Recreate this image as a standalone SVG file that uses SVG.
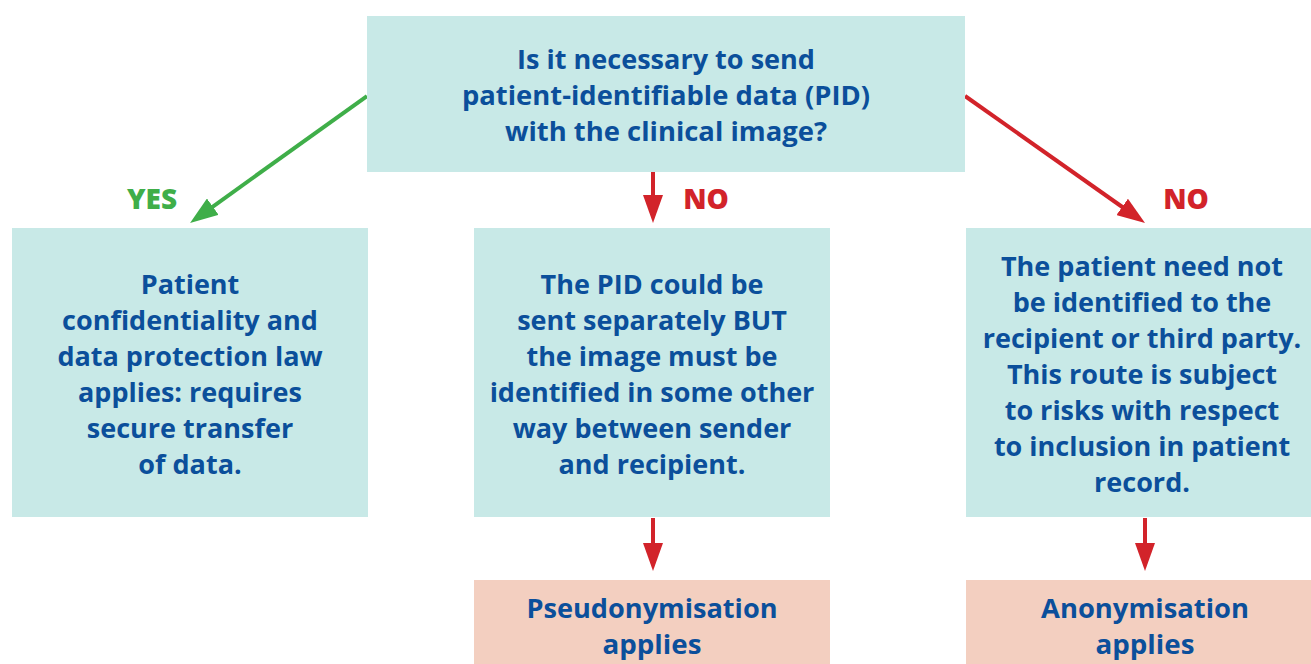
<svg xmlns="http://www.w3.org/2000/svg" width="1311" height="664" viewBox="0 0 1311 664">
<style>
.box{fill:#c8e9e7}
.res{fill:#f3cfc0}
.t{font-family:"Open Sans","Liberation Sans",sans-serif;font-weight:bold;font-size:27px;fill:#0b4f9b;text-anchor:middle}
.lbl{font-family:"Open Sans","Liberation Sans",sans-serif;font-weight:800;font-size:28px;text-anchor:middle}
.g{stroke:#3fae49;stroke-width:4;fill:none}
.r{stroke:#d2232a;stroke-width:4;fill:none}
</style>
<defs>
<marker id="ag" markerUnits="userSpaceOnUse" markerWidth="28" markerHeight="20" refX="8" refY="10" orient="auto"><path d="M0,0 L28,10 L0,20 z" fill="#3fae49"/></marker>
<marker id="ar" markerUnits="userSpaceOnUse" markerWidth="28" markerHeight="20" refX="8" refY="10" orient="auto"><path d="M0,0 L28,10 L0,20 z" fill="#d2232a"/></marker>
</defs>
<g id="connectors">
<line class="g" x1="367" y1="96" x2="206.3" y2="211.3" marker-end="url(#ag)"/>
<line class="r" x1="653" y1="172" x2="653" y2="203" marker-end="url(#ar)"/>
<line class="r" x1="965" y1="96" x2="1128.7" y2="211.5" marker-end="url(#ar)"/>
<line class="r" x1="653" y1="518" x2="653" y2="551" marker-end="url(#ar)"/>
<line class="r" x1="1145" y1="518" x2="1145" y2="551" marker-end="url(#ar)"/>
<text class="lbl" x="152" y="209" fill="#3fae49">YES</text>
<text class="lbl" x="706" y="209" fill="#d2232a">NO</text>
<text class="lbl" x="1186" y="209" fill="#d2232a">NO</text>
</g>
<g id="question">
<rect class="box" x="367" y="16" width="598" height="156"/>
<text class="t" x="666" y="69" textLength="298" lengthAdjust="spacingAndGlyphs">Is it necessary to send</text>
<text class="t" x="666" y="105" textLength="408" lengthAdjust="spacingAndGlyphs">patient-identifiable data (PID)</text>
<text class="t" x="666" y="141" textLength="322" lengthAdjust="spacingAndGlyphs">with the clinical image?</text>
</g>
<g id="yes-box">
<rect class="box" x="12" y="228" width="356" height="289"/>
<text class="t" x="190" y="294">Patient</text>
<text class="t" x="190" y="330">confidentiality and</text>
<text class="t" x="190" y="366">data protection law</text>
<text class="t" x="190" y="402">applies: requires</text>
<text class="t" x="190" y="438">secure transfer</text>
<text class="t" x="190" y="474">of data.</text>
</g>
<g id="no-box-middle">
<rect class="box" x="474" y="228" width="356" height="289"/>
<text class="t" x="652" y="294">The PID could be</text>
<text class="t" x="652" y="330">sent separately BUT</text>
<text class="t" x="652" y="366">the image must be</text>
<text class="t" x="652" y="402">identified in some other</text>
<text class="t" x="652" y="438">way between sender</text>
<text class="t" x="652" y="474">and recipient.</text>
</g>
<g id="no-box-right">
<rect class="box" x="966" y="228" width="345" height="289"/>
<text class="t" x="1142" y="276">The patient need not</text>
<text class="t" x="1142" y="312">be identified to the</text>
<text class="t" x="1142" y="348">recipient or third party.</text>
<text class="t" x="1142" y="384">This route is subject</text>
<text class="t" x="1142" y="420">to risks with respect</text>
<text class="t" x="1142" y="456">to inclusion in patient</text>
<text class="t" x="1142" y="492">record.</text>
</g>
<g id="pseudonymisation">
<rect class="res" x="474" y="580" width="356" height="84"/>
<text class="t" x="652" y="618" textLength="251" lengthAdjust="spacingAndGlyphs">Pseudonymisation</text>
<text class="t" x="652" y="654" textLength="99" lengthAdjust="spacingAndGlyphs">applies</text>
</g>
<g id="anonymisation">
<rect class="res" x="966" y="580" width="345" height="84"/>
<text class="t" x="1145" y="618" textLength="208" lengthAdjust="spacingAndGlyphs">Anonymisation</text>
<text class="t" x="1145" y="654" textLength="99" lengthAdjust="spacingAndGlyphs">applies</text>
</g>
</svg>
